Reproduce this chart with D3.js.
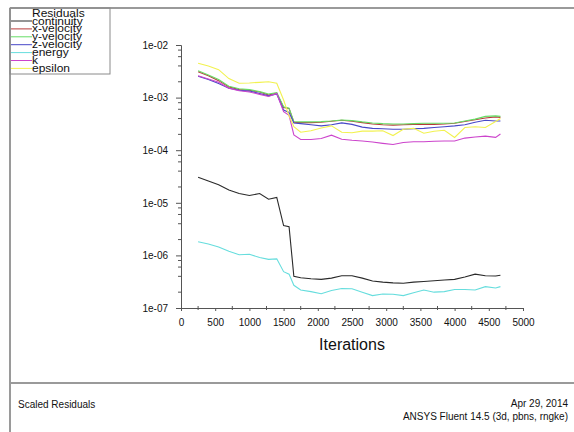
<!DOCTYPE html>
<html><head><meta charset="utf-8">
<script src="https://cdn.jsdelivr.net/npm/d3@7"></script>
<style>
html,body{margin:0;padding:0;background:#fff;}
svg{display:block;font-family:Arial,"Liberation Sans",sans-serif;}
</style></head>
<body>
<svg id="chart" width="574" height="432"></svg>
<script>
const iterations = [250,400,550,700,850,1000,1150,1280,1400,1500,1580,1650,1750,1900,2050,2200,2350,2500,2650,2800,2950,3100,3250,3400,3550,3700,3850,4000,4150,4300,4450,4600,4670];
const continuity = [3.05e-5,2.6e-5,2.2e-5,1.75e-5,1.5e-5,1.38e-5,1.5e-5,1.17e-5,1.27e-5,3.7e-6,3.5e-6,4.0e-7,3.75e-7,3.6e-7,3.5e-7,3.7e-7,4.1e-7,4.1e-7,3.7e-7,3.25e-7,3.1e-7,3.0e-7,2.95e-7,3.1e-7,3.2e-7,3.3e-7,3.4e-7,3.5e-7,3.9e-7,4.4e-7,4.1e-7,4.05e-7,4.2e-7];
const xVelocity = [3.1e-3,2.6e-3,2.1e-3,1.6e-3,1.43e-3,1.38e-3,1.28e-3,1.12e-3,1.22e-3,6.5e-4,6.2e-4,3.4e-4,3.35e-4,3.35e-4,3.4e-4,3.55e-4,3.7e-4,3.55e-4,3.35e-4,3.15e-4,3.05e-4,3.0e-4,3.05e-4,3.1e-4,3.1e-4,3.1e-4,3.15e-4,3.25e-4,3.5e-4,3.8e-4,4.1e-4,4.3e-4,4.2e-4];
const yVelocity = [3.25e-3,2.7e-3,2.2e-3,1.65e-3,1.47e-3,1.42e-3,1.3e-3,1.17e-3,1.24e-3,6.7e-4,6.3e-4,3.5e-4,3.45e-4,3.45e-4,3.5e-4,3.6e-4,3.75e-4,3.65e-4,3.45e-4,3.3e-4,3.2e-4,3.15e-4,3.15e-4,3.2e-4,3.25e-4,3.25e-4,3.25e-4,3.3e-4,3.6e-4,3.9e-4,4.4e-4,4.5e-4,4.4e-4];
const zVelocity = [2.55e-3,2.2e-3,1.85e-3,1.5e-3,1.38e-3,1.33e-3,1.2e-3,1.08e-3,1.17e-3,5.8e-4,5.2e-4,3.3e-4,3.2e-4,3.05e-4,2.9e-4,3.05e-4,3.3e-4,3.1e-4,2.75e-4,2.6e-4,2.55e-4,2.5e-4,2.5e-4,2.55e-4,2.6e-4,2.7e-4,2.8e-4,2.9e-4,3.05e-4,3.4e-4,3.7e-4,3.6e-4,3.6e-4];
const energy = [1.82e-6,1.65e-6,1.45e-6,1.2e-6,1.03e-6,1.05e-6,9.1e-7,8.4e-7,8.6e-7,4.9e-7,4.4e-7,2.7e-7,2.2e-7,2.05e-7,1.87e-7,2.15e-7,2.35e-7,2.32e-7,2.0e-7,1.72e-7,1.85e-7,1.83e-7,1.72e-7,1.95e-7,2.2e-7,2.0e-7,2.05e-7,2.25e-7,2.25e-7,2.2e-7,2.55e-7,2.4e-7,2.55e-7];
const kRes = [2.6e-3,2.25e-3,1.95e-3,1.5e-3,1.35e-3,1.28e-3,1.15e-3,1.05e-3,1.2e-3,5.4e-4,4.6e-4,1.95e-4,1.6e-4,1.6e-4,1.67e-4,1.93e-4,1.62e-4,1.55e-4,1.5e-4,1.43e-4,1.35e-4,1.28e-4,1.4e-4,1.45e-4,1.45e-4,1.48e-4,1.5e-4,1.5e-4,1.7e-4,1.78e-4,1.85e-4,1.75e-4,2.03e-4];
const epsilon = [4.5e-3,4.0e-3,3.4e-3,2.3e-3,1.88e-3,1.9e-3,1.95e-3,2.0e-3,1.87e-3,9e-4,4.5e-4,2.8e-4,2.2e-4,2.35e-4,2.65e-4,2.9e-4,2.2e-4,2.15e-4,2.3e-4,2.3e-4,2.35e-4,1.9e-4,2.5e-4,2.6e-4,2.1e-4,2.3e-4,2.4e-4,1.75e-4,2.7e-4,2.8e-4,2.7e-4,3.5e-4,4.0e-4];

const seriesNames = ["continuity","x-velocity","y-velocity","z-velocity","energy","k","epsilon"];
const seriesValues = [continuity,xVelocity,yVelocity,zVelocity,energy,kRes,epsilon];
const seriesColors = ["#2a2a2a","#b83a3a","#66dd66","#4848c8","#66dddd","#cc44cc","#f2f250"];
const xTickLabels = [0,500,1000,1500,2000,2500,3000,3500,4000,4500,5000];
const yTickLabels = ["1e-02","1e-03","1e-04","1e-05","1e-06","1e-07"];

const svg = d3.select("#chart");
const font = 'Arial,"Liberation Sans",sans-serif';

// frame
const frame = svg.append("g").attr("stroke","#9a9a9a").attr("stroke-width",2);
frame.append("line").attr("x1",10).attr("x2",574).attr("y1",8).attr("y2",8);
frame.append("line").attr("x1",10).attr("x2",10).attr("y1",8).attr("y2",432);
frame.append("line").attr("x1",10).attr("x2",574).attr("y1",383).attr("y2",383);

// scales
const x = d3.scaleLinear().domain([0,5000]).range([181,523]);
const y = d3.scaleLog().domain([1e-7,1e-2]).range([308,45]);

// axes
const axisColor = "#555";
const yAxis = d3.axisLeft(y).tickValues(yTickLabels.map(Number)).tickFormat((d,i)=>yTickLabels[i]).tickSize(5).tickPadding(8);
const gy = svg.append("g").attr("transform","translate(181,0)").call(yAxis);
const minorY = [];
for (let e=-7;e<-2;e++) for (const m of [2,4,6,8]) minorY.push(m*Math.pow(10,e));
gy.selectAll(".minor").data(minorY).enter().append("line").attr("class","minor")
  .attr("x1",-3).attr("x2",0).attr("y1",d=>y(d)).attr("y2",d=>y(d)).attr("stroke",axisColor);

const xAxis = d3.axisBottom(x).tickValues(xTickLabels).tickFormat(d3.format("d")).tickSize(3).tickPadding(8);
const gx = svg.append("g").attr("transform","translate(0,308)").call(xAxis);
const minorX = xTickLabels.slice(0,-1).map(d=>d+250);
gx.selectAll(".minor").data(minorX).enter().append("line").attr("class","minor")
  .attr("x1",d=>x(d)).attr("x2",d=>x(d)).attr("y1",-2).attr("y2",2).attr("stroke",axisColor);

[gx,gy].forEach(g=>{
  g.select(".domain").attr("stroke",axisColor);
  g.selectAll(".tick line").attr("stroke",axisColor);
  g.selectAll("text").attr("font-family",font).attr("font-size",10).attr("fill","#111");
});

svg.append("text").attr("x",352).attr("y",350).attr("text-anchor","middle")
  .attr("font-family",font).attr("font-size",16).attr("fill","#111").text("Iterations");

// lines
const line = d3.line().x((d,i)=>x(iterations[i])).y(d=>y(d));
svg.append("g").selectAll("path").data(seriesValues).enter().append("path")
  .attr("d",d=>line(d)).attr("fill","none")
  .attr("stroke",(d,i)=>seriesColors[i]).attr("stroke-width",1.1);

// legend
const lg = svg.append("g");
lg.append("rect").attr("x",10).attr("y",8).attr("width",100).attr("height",66)
  .attr("fill","none").attr("stroke","#8a8a8a").attr("stroke-width",1);
lg.append("text").attr("transform","translate(32,17) scale(1,0.88)")
  .attr("font-family",font).attr("font-size",12).attr("fill","#111").text("Residuals");
seriesNames.forEach((name,i)=>{
  const ly = 21 + i*7.9;
  lg.append("line").attr("x1",11).attr("x2",32).attr("y1",ly).attr("y2",ly)
    .attr("stroke",seriesColors[i]).attr("stroke-width",1);
  lg.append("text").attr("transform",`translate(32,${ly+3.5}) scale(1,0.88)`)
    .attr("font-family",font).attr("font-size",12).attr("fill","#111").text(name);
});

// footer
svg.append("text").attr("x",18).attr("y",408).attr("font-family",font).attr("font-size",10).attr("fill","#111").text("Scaled Residuals");
svg.append("text").attr("x",568).attr("y",407).attr("text-anchor","end").attr("font-family",font).attr("font-size",10).attr("fill","#111").text("Apr 29, 2014");
svg.append("text").attr("x",568).attr("y",420).attr("text-anchor","end").attr("font-family",font).attr("font-size",10).attr("fill","#111").text("ANSYS Fluent 14.5 (3d, pbns, rngke)");
</script>
</body></html>
